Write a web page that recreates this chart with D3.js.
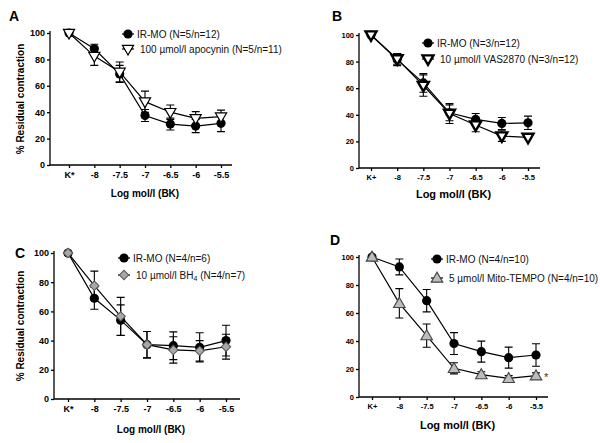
<!DOCTYPE html>
<html>
<head>
<meta charset="utf-8">
<script src="https://d3js.org/d3.v7.min.js"></script>
<style>
  body { margin: 0; background: #fff; }
  svg { display: block; font-family: "Liberation Sans", Arial, sans-serif; }
  .domain, .tick line { stroke: #000; stroke-width: 1.3; }
</style>
</head>
<body>
<svg width="600" height="443"></svg>
<script>
var svg = d3.select('svg');

// x categories (log mol/l BK)
var doseLabelsAC = ["K*", "-8", "-7.5", "-7", "-6.5", "-6", "-5.5"];
var doseLabelsBD = ["K+", "-8", "-7.5", "-7", "-6.5", "-6", "-5.5"];
var yTicks = [0, 20, 40, 60, 80, 100];

// panel A
var irmoA = [100, 88, 69, 37.5, 31, 29.5, 31.6];
var irmoAErr = [0, 3.5, 6.5, 4.5, 4.5, 5, 6.3];
var apocyninA = [100, 82.5, 70.5, 48, 40, 35.4, 36.6];
var apocyninAErr = [1, 7, 7.5, 8, 5.5, 5, 5];

// panel B
var irmoB = [100, 81.5, 64, 41.5, 36.5, 33.5, 34];
var irmoBErr = [1, 4.5, 7, 6, 4.5, 4.5, 5];
var vasB = [100, 82, 62, 41, 32.3, 24, 23];
var vasBErr = [1, 4, 8, 7.5, 5, 4, 1];

// panel C
var irmoC = [100, 69, 54, 37.2, 36.5, 35.4, 40];
var irmoCErr = [0, 7.5, 10.5, 9, 9.5, 10, 10.5];
var bh4C = [100, 77.6, 56.6, 37.2, 33.6, 33, 35.8];
var bh4CErr = [0, 10, 13, 9, 9, 7, 8.5];

// panel D
var irmoD = [100, 92.9, 68.8, 38.2, 32.4, 28.1, 30];
var irmoDErr = [0, 5.7, 8, 7.8, 7.5, 7.5, 8];
var mitoD = [100, 66.9, 43.8, 20.5, 16, 13.3, 15.2];
var mitoDErr = [0, 10.5, 8.3, 4, 2, 2, 2];

var panels = [
  { letter: "A", lx: 9, ly: 21, axisX: 50, xEnd: 232, x0: 69, x1: 221, y100: 33, y0: 165,
    labels: doseLabelsAC, tickFont: 9, xTitleFont: 10, xTitleY: 197, yTitle: true, yTitleX: 24,
    legX: 128, legY: 34, legGap: 15,
    series: [
      { name: "IR-MO (N=5/n=12)", vals: irmoA, err: irmoAErr, marker: "circle" },
      { name: "100 µmol/l apocynin (N=5/n=11)", vals: apocyninA, err: apocyninAErr, marker: "tridown" }
    ] },
  { letter: "B", lx: 332, ly: 21, axisX: 359, xEnd: 540, x0: 371, x1: 528, y100: 35, y0: 168,
    labels: doseLabelsBD, tickFont: 7.5, xTitleFont: 11, xTitleY: 198, yTitle: false,
    legX: 428, legY: 43, legGap: 16,
    series: [
      { name: "IR-MO (N=3/n=12)", vals: irmoB, err: irmoBErr, marker: "circle" },
      { name: "10 µmol/l VAS2870 (N=3/n=12)", vals: vasB, err: vasBErr, marker: "tridownbold" }
    ] },
  { letter: "C", lx: 15, ly: 258, axisX: 54, xEnd: 240, x0: 68, x1: 226, y100: 253, y0: 399,
    labels: doseLabelsAC, tickFont: 9, xTitleFont: 10, xTitleY: 433, yTitle: true, yTitleX: 24,
    legX: 124, legY: 258, legGap: 17,
    series: [
      { name: "IR-MO (N=4/n=6)", vals: irmoC, err: irmoCErr, marker: "circle" },
      { name: "10 µmol/l BH", sub: "4", tail: " (N=4/n=7)", vals: bh4C, err: bh4CErr, marker: "diamond" }
    ] },
  { letter: "D", lx: 330, ly: 245, axisX: 359, xEnd: 548, x0: 372, x1: 536, y100: 257, y0: 397,
    labels: doseLabelsBD, tickFont: 7.5, xTitleFont: 11, xTitleY: 429, yTitle: false,
    legX: 437, legY: 259, legGap: 19,
    series: [
      { name: "IR-MO (N=4/n=10)", vals: irmoD, err: irmoDErr, marker: "circle" },
      { name: "5 µmol/l Mito-TEMPO (N=4/n=10)", vals: mitoD, err: mitoDErr, marker: "triup" }
    ],
    star: { idx: 6, val: 15.2 } }
];

function drawMarker(g, type, x, y) {
  if (type === "circle") {
    g.append('circle').attr('cx', x).attr('cy', y).attr('r', 4.6).attr('fill', '#000');
  } else if (type === "tridown" || type === "tridownbold") {
    g.append('path')
      .attr('d', d3.symbol().type(d3.symbolTriangle).size(type === "tridownbold" ? 52 : 54)())
      .attr('transform', 'translate(' + x + ',' + (y - 0.5) + ') rotate(180)')
      .attr('fill', '#fff').attr('stroke', '#000')
      .attr('stroke-width', type === "tridownbold" ? 2.4 : 1.2);
  } else if (type === "diamond") {
    g.append('path')
      .attr('d', d3.symbol().type(d3.symbolSquare).size(44)())
      .attr('transform', 'translate(' + x + ',' + y + ') rotate(45)')
      .attr('fill', '#a8a8a8').attr('stroke', '#555').attr('stroke-width', 1);
  } else if (type === "triup") {
    g.append('path')
      .attr('d', d3.symbol().type(d3.symbolTriangle).size(58)())
      .attr('transform', 'translate(' + x + ',' + (y + 0.8) + ')')
      .attr('fill', '#bdbdbd').attr('stroke', '#444').attr('stroke-width', 1.1);
  }
}

panels.forEach(function(p) {
  var x = d3.scaleLinear().domain([0, p.labels.length - 1]).range([p.x0, p.x1]);
  var y = d3.scaleLinear().domain([0, 100]).range([p.y0, p.y100]);
  var g = svg.append('g');

  // axes
  var yAxis = d3.axisLeft(y).tickValues(yTicks).tickSize(3).tickSizeOuter(0).tickPadding(2);
  var gy = g.append('g').attr('transform', 'translate(' + p.axisX + ',0)').call(yAxis);
  gy.select('.domain').attr('d', 'M0,' + p.y0 + 'V' + (p.y100 - 2));
  gy.selectAll('text').attr('font-size', p.tickFont).attr('font-weight', 'bold')
    .attr('font-family', '"Liberation Sans", Arial, sans-serif');

  var xAxis = d3.axisBottom(x).tickValues(d3.range(p.labels.length))
    .tickFormat(function(i) { return p.labels[i]; }).tickSize(3).tickSizeOuter(0).tickPadding(4);
  var gx = g.append('g').attr('transform', 'translate(0,' + p.y0 + ')').call(xAxis);
  gx.select('.domain').attr('d', 'M' + p.axisX + ',0H' + p.xEnd);
  gx.selectAll('text').attr('font-size', p.tickFont).attr('font-weight', 'bold')
    .attr('font-family', '"Liberation Sans", Arial, sans-serif');

  // titles
  g.append('text').attr('x', (p.axisX + p.xEnd) / 2 + 4).attr('y', p.xTitleY)
    .attr('text-anchor', 'middle').attr('font-size', p.xTitleFont).attr('font-weight', 'bold')
    .text('Log mol/l (BK)');
  if (p.yTitle) {
    g.append('text')
      .attr('transform', 'translate(' + p.yTitleX + ',' + ((p.y0 + p.y100) / 2) + ') rotate(-90)')
      .attr('text-anchor', 'middle').attr('font-size', 10).attr('font-weight', 'bold')
      .text('% Residual contraction');
  }
  g.append('text').attr('x', p.lx).attr('y', p.ly).attr('font-size', 14).attr('font-weight', 'bold')
    .text(p.letter);

  // series
  var line = d3.line().x(function(d, i) { return x(i); }).y(function(d) { return y(d); });
  p.series.forEach(function(s) {
    var sg = g.append('g');
    s.vals.forEach(function(v, i) {
      if (!s.err[i]) return;
      var xi = x(i), lo = y(v - s.err[i]), hi = y(v + s.err[i]);
      sg.append('path')
        .attr('d', 'M' + xi + ',' + lo + 'V' + hi + 'M' + (xi - 4) + ',' + lo + 'h8M' + (xi - 4) + ',' + hi + 'h8')
        .attr('stroke', '#000').attr('stroke-width', 1.1).attr('fill', 'none');
    });
    sg.append('path').datum(s.vals).attr('d', line)
      .attr('fill', 'none').attr('stroke', '#000').attr('stroke-width', 1.2);
    s.vals.forEach(function(v, i) { drawMarker(sg, s.marker, x(i), y(v)); });
  });

  // legend
  p.series.forEach(function(s, k) {
    var ly = p.legY + k * p.legGap;
    g.append('line').attr('x1', p.legX - 6).attr('x2', p.legX + 6).attr('y1', ly).attr('y2', ly)
      .attr('stroke', '#000').attr('stroke-width', 1.2);
    drawMarker(g, s.marker, p.legX, ly);
    var t = g.append('text').attr('x', p.legX + (k === 0 ? 9 : 12)).attr('y', ly + 3.5)
      .attr('font-size', 10).attr('fill', '#111').text(s.name);
    if (s.sub) {
      t.append('tspan').attr('font-size', 7).attr('dy', 2.5).text(s.sub);
      t.append('tspan').attr('dy', -2.5).text(s.tail);
    }
  });

  if (p.star) {
    g.append('text').attr('x', x(p.star.idx) + 8).attr('y', y(p.star.val) + 5)
      .attr('font-size', 11).attr('fill', '#333').text('*');
  }
});
</script>
</body>
</html>
